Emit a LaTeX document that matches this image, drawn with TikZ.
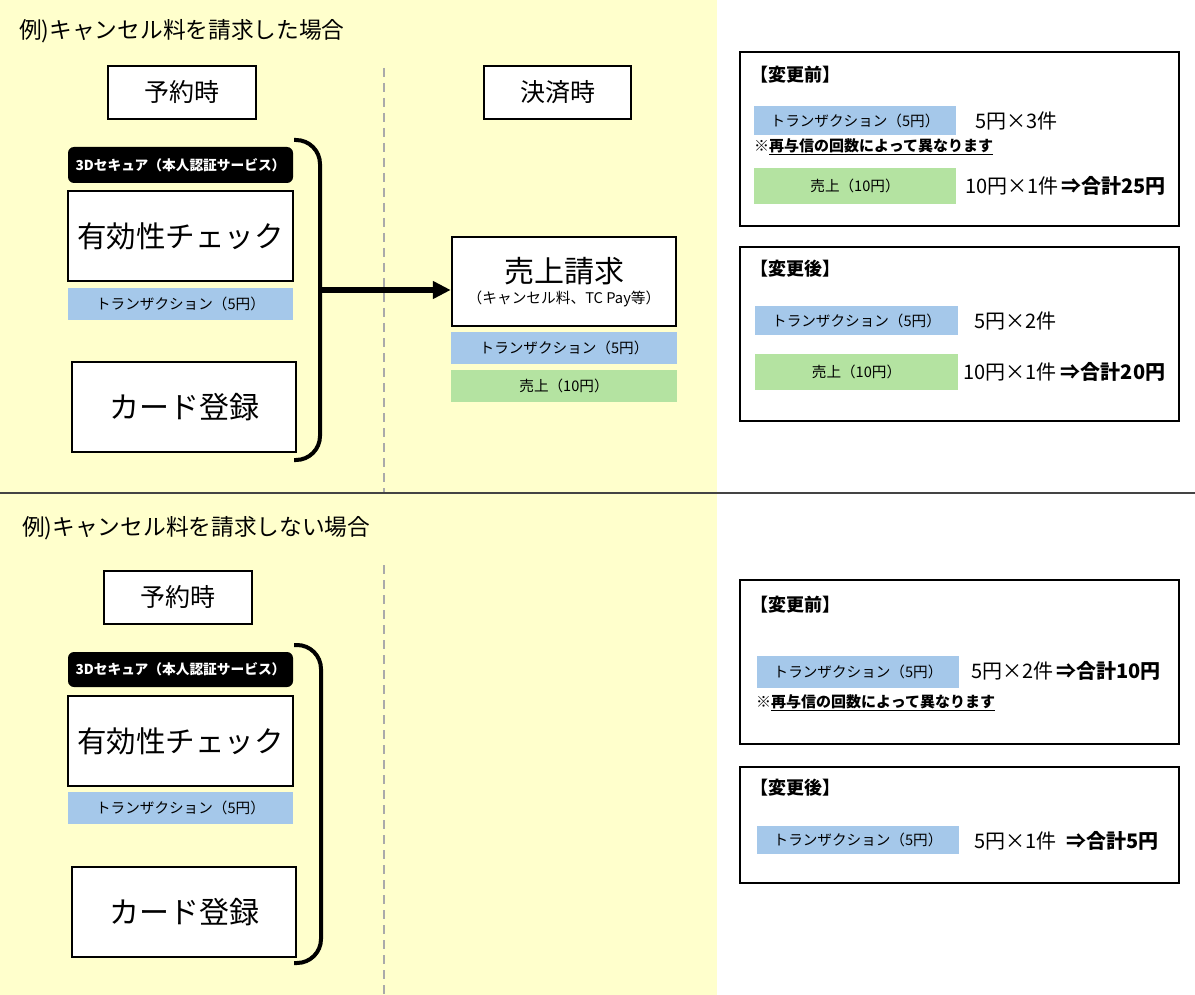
\documentclass[tikz,border=0pt]{standalone}
\usepackage{fontspec}
\setmainfont{Noto Sans CJK JP}
\usetikzlibrary{arrows.meta}
\definecolor{bgyellow}{HTML}{FFFFCC}
\definecolor{trblue}{HTML}{A5C8EA}
\definecolor{sagreen}{HTML}{B4E3A1}
\definecolor{dashgray}{HTML}{AAAAAA}
\definecolor{divider}{HTML}{444444}
\newcommand\fsz[1]{\fontsize{#1}{#1}\selectfont}
\tikzset{
  frame/.style={draw=black, line width=2.5pt, fill=white, inner sep=0pt, align=center},
  blk/.style={fill=black, rounded corners=6pt, text=white, inner sep=0pt, font=\fsz{13.7}\bfseries},
  trbar/.style={fill=trblue, inner sep=0pt, font=\fsz{14.6}},
  grbar/.style={fill=sagreen, inner sep=0pt, font=\fsz{14.6}},
  rbox/.style={draw=black, line width=2.5pt, inner sep=0pt},
  head/.style={anchor=west, inner sep=0pt, font=\fsz{18}\bfseries},
  amount/.style={anchor=west, inner sep=0pt, font=\fsz{20}},
  note/.style={anchor=west, inner sep=0pt, font=\fsz{15}},
  title/.style={anchor=west, inner sep=0pt, font=\fsz{22.7}},
  sepline/.style={dashgray, line width=1.8pt, dash pattern=on 9pt off 6pt},
  brace/.style={line width=4pt, rounded corners=24pt},
  bigarrow/.style={line width=6pt, -{Triangle[length=18pt,width=17pt]}},
}
\begin{document}
\begin{tikzpicture}[x=1pt,y=-1pt]
\useasboundingbox (0,0) rectangle (1195,995);
% backgrounds
\fill[white] (0,0) rectangle (1195,995);
\fill[bgyellow] (0,0) rectangle (717,492);
\fill[bgyellow] (0,494) rectangle (717,995);
\draw[divider, line width=2pt] (0,493) -- (1195,493);

% ===== top section =====
\node[title] (t1) at (19,31) {例)キャンセル料を請求した場合};
\draw[sepline] (384,68) -- (384,492);
\node[frame, minimum width=148pt, minimum height=53pt, font=\fsz{25}] (yoyaku1) at (182,92.5) {予約時};
\node[frame, minimum width=147pt, minimum height=53pt, font=\fsz{25}] (kessai) at (557.5,92.5) {決済時};
\node[blk, minimum width=225pt, minimum height=36pt] (sec1) at (180.5,165) {3Dセキュア（本人認証サービス）};
\node[frame, minimum width=225pt, minimum height=90pt, font=\fsz{29.5}] (yuko1) at (180.5,236) {有効性チェック};
\node[trbar, minimum width=225pt, minimum height=32pt] (tr1) at (180.5,304) {トランザクション（5円）};
\node[frame, minimum width=224pt, minimum height=90pt, font=\fsz{30}] (card1) at (184,407) {カード登録};
\draw[brace] (294,140) -- (320,140) -- (320,460) -- (294,460);
\coordinate (stub) at (318,290);
\node[frame, minimum width=224pt, minimum height=89pt] (uriage) at (564,281.5) {};
\node[inner sep=0pt, font=\fsz{30}] (uriagetxt) at (564,271) {売上請求};
\node[inner sep=0pt, font=\fsz{14.7}] (uriagesub) at (564,299) {（キャンセル料、TC Pay等）};
\draw[bigarrow] (stub) -- (stub -| uriage.west);
\node[trbar, minimum width=226pt, minimum height=32pt] (tr2) at (564,348) {トランザクション（5円）};
\node[grbar, minimum width=226pt, minimum height=32pt] (gr2) at (564,386) {売上（10円）};

% right top boxes
\node[rbox, minimum width=439pt, minimum height=174pt] (rb1) at (959.5,139) {};
\node[head] (rb1h) at (750,75) {【変更前】};
\node[trbar, minimum width=202pt, minimum height=29pt] (rb1tr) at (855,120.5) {トランザクション（5円）};
\node[amount] (rb1a) at (975,121) {5円×3件};
\node[note] (rb1n) at (754,147) {※{\bfseries\underline{再与信の回数によって異なります}}};
\node[grbar, minimum width=202pt, minimum height=36pt] (rb1gr) at (855,186) {売上（10円）};
\node[amount] (rb1b) at (965,186) {10円×1件\hspace{3pt}{\bfseries ⇒合計25円}};

\node[rbox, minimum width=439pt, minimum height=174pt] (rb2) at (959.5,334) {};
\node[head] (rb2h) at (750,269) {【変更後】};
\node[trbar, minimum width=203pt, minimum height=29pt] (rb2tr) at (856.5,320.5) {トランザクション（5円）};
\node[amount] (rb2a) at (974,321) {5円×2件};
\node[grbar, minimum width=203pt, minimum height=36pt] (rb2gr) at (856.5,372) {売上（10円）};
\node[amount] (rb2b) at (963,372) {10円×1件 {\bfseries ⇒合計20円}};

% ===== bottom section =====
\node[title] (t2) at (22,528) {例)キャンセル料を請求しない場合};
\draw[sepline] (384,565) -- (384,995);
\node[frame, minimum width=148pt, minimum height=53pt, font=\fsz{25}] (yoyaku2) at (178,597.5) {予約時};
\node[blk, minimum width=225pt, minimum height=35pt] (sec2) at (180.5,669.5) {3Dセキュア（本人認証サービス）};
\node[frame, minimum width=225pt, minimum height=90pt, font=\fsz{29.5}] (yuko2) at (180.5,741) {有効性チェック};
\node[trbar, minimum width=225pt, minimum height=32pt] (tr3) at (180.5,808) {トランザクション（5円）};
\node[frame, minimum width=224pt, minimum height=90pt, font=\fsz{30}] (card2) at (184,912) {カード登録};
\draw[brace] (294,645) -- (321,645) -- (321,963) -- (294,963);

% right bottom boxes
\node[rbox, minimum width=439pt, minimum height=164pt] (rb3) at (959.5,662) {};
\node[head] (rb3h) at (750,605) {【変更前】};
\node[trbar, minimum width=202pt, minimum height=32pt] (rb3tr) at (858,672) {トランザクション（5円）};
\node[amount] (rb3a) at (971,671) {5円×2件\hspace{3pt}{\bfseries ⇒合計10円}};
\node[note] (rb3n) at (756,703) {※{\bfseries\underline{再与信の回数によって異なります}}};

\node[rbox, minimum width=439pt, minimum height=116pt] (rb4) at (959.5,825) {};
\node[head] (rb4h) at (750,788) {【変更後】};
\node[trbar, minimum width=202pt, minimum height=28pt] (rb4tr) at (858,840) {トランザクション（5円）};
\node[amount] (rb4a) at (974,841) {5円×1件};
\node[amount, font=\fsz{20}\bfseries] (rb4b) at (1066,841) {⇒合計5円};
\end{tikzpicture}
\end{document}
